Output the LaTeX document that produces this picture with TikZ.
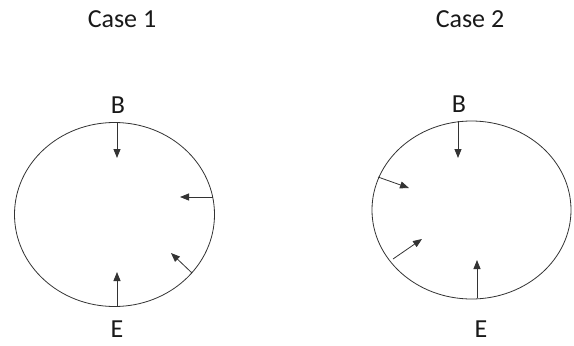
\documentclass[tikz,border=0pt]{standalone}
\usepackage{fontspec}
\setmainfont{Carlito}
\usetikzlibrary{arrows.meta}
\begin{document}
\begin{tikzpicture}[x=1pt,y=-1pt,line width=.8pt,draw=black!80,
    push/.style={-{Triangle[length=9pt,width=7pt]}},
    lbl/.style={font=\fontsize{26}{26}\selectfont,text=black!90,inner sep=0pt}]
    \useasboundingbox (0,0) rectangle (574,346);
    % case 1
    \node[lbl] (case1) at (122,19) {Case 1};
    \node[lbl] (b1) at (118,105) {B};
    \node[lbl] (e1) at (117,329) {E};
    \draw (114.5,214.5) ellipse[x radius=100pt,y radius=92pt];
    \foreach \xa / \ya / \xb / \yb in {117/123/117/158,213/197/180/197,192/273/171/253,117/306/117/272}
      \draw[push] (\xa,\ya) -- (\xb,\yb);
    % case 2
    \node[lbl] (case2) at (470,19) {Case 2};
    \node[lbl] (b2) at (459,104) {B};
    \node[lbl] (e2) at (481,329) {E};
    \draw (471.5,210) ellipse[x radius=99.5pt,y radius=89pt];
    \foreach \xa / \ya / \xb / \yb in {458/121/458/158,378/177/409/188,393/259/422/239,477/298/477/260}
      \draw[push] (\xa,\ya) -- (\xb,\yb);
  \end{tikzpicture}
\end{document}
